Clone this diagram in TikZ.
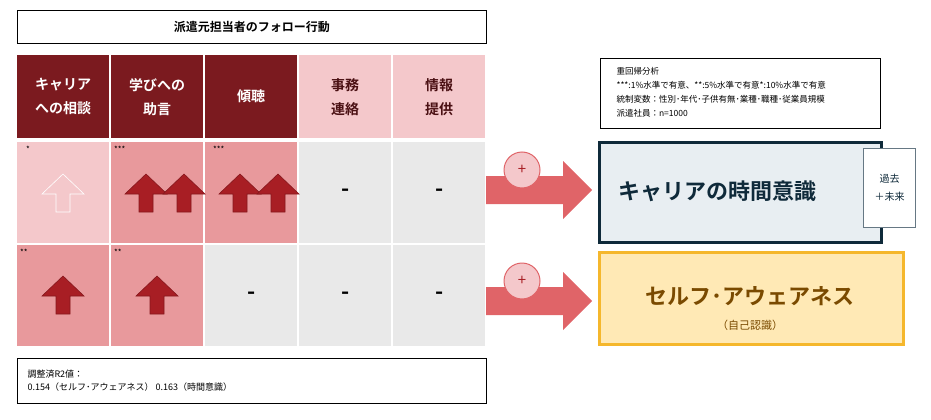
\documentclass[tikz,border=0pt]{standalone}
\usepackage{fontspec}
\setmainfont{Noto Sans CJK JP}
\newfontfamily\jpb{Noto Sans CJK JP Bold}
\definecolor{dred}{HTML}{7B1A1F}
\definecolor{lpink}{HTML}{F4C8CB}
\definecolor{mpink}{HTML}{E8999C}
\definecolor{cgrey}{HTML}{E9E9E9}
\definecolor{ared}{HTML}{A81E24}
\definecolor{bigarr}{HTML}{E06468}
\definecolor{navy}{HTML}{0F2A3A}
\definecolor{lblue}{HTML}{E8EEF2}
\definecolor{cream}{HTML}{FFE9B5}
\definecolor{gold}{HTML}{F5B72C}
\definecolor{brown}{HTML}{7A4A00}
\begin{document}
\begin{tikzpicture}[x=1pt,y=-1pt,
 cell/.style={minimum width=92pt,minimum height=#1,inner sep=0pt,anchor=north west},
 htxt/.style={font=\jpb\fontsize{14}{24}\selectfont,align=center},
 star/.style={font=\fontsize{8}{8}\selectfont,anchor=north west,inner sep=0pt},
 dash/.style={},
 upa/.style={line width=0.6pt},
 thinbox/.style={draw=black,line width=0.8pt,anchor=north west,inner sep=0pt}]
\useasboundingbox (0,0) rectangle (931,420);
\node[thinbox,minimum width=469pt,minimum height=33pt] (title) at (17,10) {};
\node[font=\jpb\fontsize{12}{12}\selectfont] at (title.center) {派遣元担当者のフォロー行動};
% header
\node[cell=83pt,fill=dred,htxt,text=white] (h1) at (17,55) {キャリア\\への相談};
\node[cell=83pt,fill=dred,htxt,text=white] (h2) at (111,55) {学びへの\\助言};
\node[cell=83pt,fill=dred,htxt,text=white] (h3) at (205,55) {傾聴};
\node[cell=83pt,fill=lpink,htxt,text=dred!60!black] (h4) at (299,55) {事務\\連絡};
\node[cell=83pt,fill=lpink,htxt,text=dred!60!black] (h5) at (393,55) {情報\\提供};
% row1
\node[cell=101pt,fill=lpink] (a1) at (17,142) {};
\node[cell=101pt,fill=mpink] (a2) at (111,142) {};
\node[cell=101pt,fill=mpink] (a3) at (205,142) {};
\node[cell=101pt,fill=cgrey,font=\jpb\fontsize{22}{22}\selectfont] (a4) at (299,142) {-};
\node[cell=101pt,fill=cgrey,font=\jpb\fontsize{22}{22}\selectfont] (a5) at (393,142) {-};
% row2
\node[cell=101pt,fill=mpink] (b1) at (17,245) {};
\node[cell=101pt,fill=mpink] (b2) at (111,245) {};
\node[cell=101pt,fill=cgrey,font=\jpb\fontsize{22}{22}\selectfont] (b3) at (205,245) {-};
\node[cell=101pt,fill=cgrey,font=\jpb\fontsize{22}{22}\selectfont] (b4) at (299,245) {-};
\node[cell=101pt,fill=cgrey,font=\jpb\fontsize{22}{22}\selectfont] (b5) at (393,245) {-};
\node[star] at (26,146) {*};
\node[star] at (114,146) {***};
\node[star] at (213,146) {***};
\node[star] at (20,249) {**};
\node[star] at (114,249) {**};
% up arrows: macro-free paths, centred (cx, base y)
\def\uparr#1#2#3#4{\draw[#3,upa] (#1-7,#2) -- (#1-7,#2-18) -- (#1-21,#2-18) -- (#1,#2-38) -- (#1+21,#2-18) -- (#1+7,#2-18) -- (#1+7,#2) -- cycle;}
\uparr{63}{212}{draw=white,line width=1.3pt}{}
\uparr{146}{212}{fill=ared,draw=ared!80!black}{}
\uparr{184}{212}{fill=ared,draw=ared!80!black}{}
\uparr{240}{212}{fill=ared,draw=ared!80!black}{}
\uparr{278}{212}{fill=ared,draw=ared!80!black}{}
\uparr{63}{314}{fill=ared,draw=ared!80!black}{}
\uparr{157}{314}{fill=ared,draw=ared!80!black}{}
% bottom note
\node[thinbox,minimum width=469pt,minimum height=45pt] (note) at (17,358) {};
\node[anchor=north west,font=\fontsize{9}{13}\selectfont,align=left] at (24,366) {調整済R2値：\\0.154（セルフ･アウェアネス） 0.163（時間意識）};
% big arrows
\foreach \yc/\n in {190/1,301/2}{
 \fill[bigarr] (486,\yc-14) -- (563,\yc-14) -- (563,\yc-29) -- (592,\yc) -- (563,\yc+29) -- (563,\yc+14) -- (486,\yc+14) -- cycle;
}
\node[circle,draw=bigarr,line width=1pt,fill=lpink,minimum size=36pt,inner sep=0pt,font=\fontsize{15}{15}\selectfont,text=ared] (p1) at (522,170) {+};
\node[circle,draw=bigarr,line width=1pt,fill=lpink,minimum size=36pt,inner sep=0pt,font=\fontsize{15}{15}\selectfont,text=ared] (p2) at (522,281) {+};
% stats
\node[thinbox,minimum width=280pt,minimum height=70pt] (stats) at (600,58) {};
\node[anchor=north west,font=\fontsize{8.5}{14}\selectfont,align=left] at (613,64) {重回帰分析\\***:1\%水準で有意、**:5\%水準で有意*:10\%水準で有意\\統制変数：性別･年代･子供有無･業種･職種･従業員規模\\派遣社員：n=1000};
% outcome boxes
\node[draw=navy,line width=3pt,fill=lblue,anchor=north west,minimum width=282pt,minimum height=100pt,inner sep=0pt] (career) at (598,141) {};
\node[font=\jpb\fontsize{22}{22}\selectfont,text=navy] at (717,191) {キャリアの時間意識};
\node[draw=navy!60!lblue,line width=1pt,fill=white,anchor=north west,minimum width=52pt,minimum height=79pt,inner sep=0pt,font=\fontsize{10}{18}\selectfont,align=center,text=navy] (side) at (863,148) {過去\\＋未来};
\node[draw=gold,line width=3pt,fill=cream,anchor=north west,minimum width=304pt,minimum height=92pt,inner sep=0pt] (self) at (598,251) {};
\node[font=\jpb\fontsize{22}{22}\selectfont,text=brown] at (750,296) {セルフ･アウェアネス};
\node[font=\fontsize{11}{11}\selectfont,text=brown] at (750,325) {（自己認識）};
\end{tikzpicture}
\end{document}
